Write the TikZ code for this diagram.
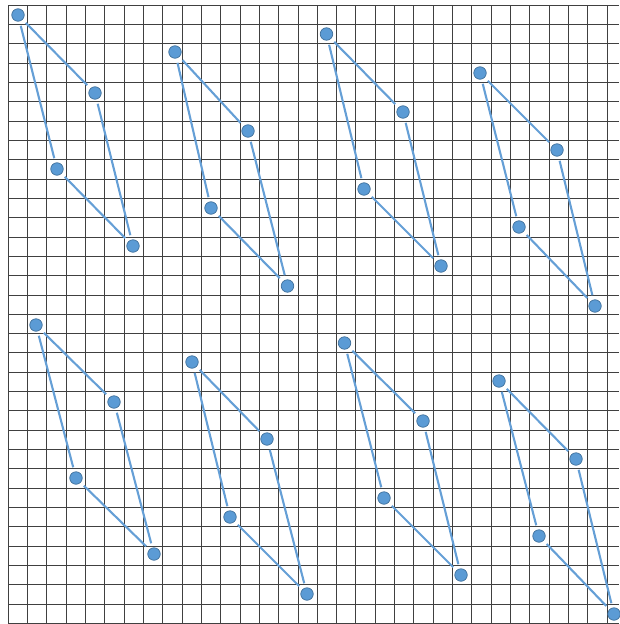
\documentclass[tikz,border=0pt]{standalone}
\usepackage{xcolor}
\usepackage{tikz}
\usetikzlibrary{positioning}
\definecolor{dotblue}{HTML}{5B9BD5}
\definecolor{dotedge}{HTML}{41719C}
\definecolor{linkblue}{HTML}{659FD6}
\definecolor{gridgray}{HTML}{404040}

\begin{document}
\begin{tikzpicture}[x=1pt, y=-1pt,
  dot/.style={circle, draw=dotedge, line width=0.7pt, fill=dotblue,
    minimum size=12.5pt, inner sep=0pt},
  link/.style={draw=linkblue, line width=2.1pt, shorten <=4.5pt, shorten >=4.5pt},
  gridline/.style={draw=gridgray, line width=0.9pt},
]
  \useasboundingbox (0,0) rectangle (619,624);

  % grid
  \foreach \k in {0,...,31}
    \draw[gridline] ({8+19.33*\k},5) -- ({8+19.33*\k},623.6);
  \foreach \k in {0,...,32}
    \draw[gridline] (8,{5+19.33*\k}) -- (619,{5+19.33*\k});

  % eight quads
  \foreach \g/\ax/\ay/\bx/\by/\cx/\cy/\dx/\dy in {
      1/18/15/95/93/57/169/133/246,
      2/175/52/248/131/211/208/287.5/286,
      3/326.5/34/403/112/364/189/441/266,
      4/480/73/557/150/519/227/595/306,
      5/36/325/114/402/76/478/154/554,
      6/192/362/267/439/230/517/307/594,
      7/344.5/343/423/421/384/498/461/575,
      8/499/381/576/459/539/536/614/614} {
    \node[dot] (a\g) at (\ax,\ay) {};
    \node[dot] (b\g) at (\bx,\by) {};
    \node[dot] (c\g) at (\cx,\cy) {};
    \node[dot] (d\g) at (\dx,\dy) {};
    \draw[link] (a\g) -- (b\g);
    \draw[link] (a\g) -- (c\g);
    \draw[link] (b\g) -- (d\g);
    \draw[link] (c\g) -- (d\g);
  }
\end{tikzpicture}
\end{document}
